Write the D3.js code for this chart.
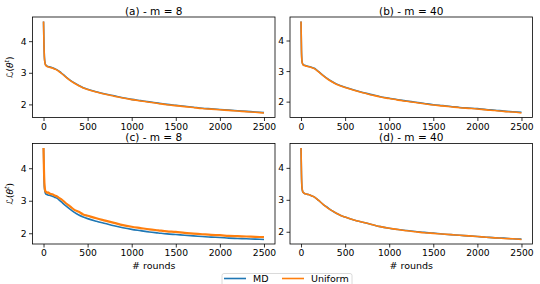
<!DOCTYPE html>
<html>
<head>
<meta charset="utf-8">
<script src="https://cdn.jsdelivr.net/npm/d3@7"></script>
<style>
  body { margin: 0; background: #fff; }
  svg { display: block; font-family: 'DejaVu Sans', sans-serif; }
</style>
</head>
<body>
<svg width="540" height="284"></svg>
<script>
const rounds = [0, 5, 10, 15, 20, 30, 40, 50, 75, 100, 125, 150, 175, 200, 250, 300, 350, 400, 450, 500,
    600, 700, 800, 900, 1000, 1100, 1200, 1300, 1400, 1500, 1600, 1700, 1800, 1900, 2000, 2100, 2200, 2300, 2400, 2500];

const mdA = [4.62, 3.9, 3.5, 3.35, 3.28, 3.23, 3.21, 3.2, 3.18, 3.16, 3.13, 3.1, 3.05, 3.0, 2.88, 2.77, 2.68, 2.6, 2.53, 2.48,
    2.4, 2.33, 2.27, 2.21, 2.16, 2.12, 2.08, 2.04, 2.0, 1.97, 1.94, 1.91, 1.88, 1.86, 1.84, 1.82, 1.8, 1.78, 1.76, 1.74];
const uniA = [4.62, 3.88, 3.48, 3.34, 3.27, 3.22, 3.2, 3.19, 3.17, 3.15, 3.12, 3.09, 3.04, 2.99, 2.87, 2.76, 2.67, 2.59, 2.52, 2.47,
    2.39, 2.32, 2.26, 2.2, 2.15, 2.11, 2.07, 2.03, 1.99, 1.96, 1.93, 1.9, 1.87, 1.85, 1.83, 1.81, 1.79, 1.77, 1.75, 1.73];

const mdB = [4.62, 3.7, 3.35, 3.27, 3.23, 3.2, 3.19, 3.18, 3.16, 3.14, 3.12, 3.09, 3.04, 2.98, 2.86, 2.75, 2.66, 2.58, 2.52, 2.47,
    2.38, 2.3, 2.23, 2.16, 2.11, 2.06, 2.02, 1.98, 1.94, 1.9, 1.87, 1.84, 1.81, 1.79, 1.77, 1.74, 1.72, 1.69, 1.67, 1.65];
const uniB = [4.62, 3.68, 3.34, 3.26, 3.22, 3.19, 3.18, 3.17, 3.15, 3.13, 3.11, 3.08, 3.03, 2.97, 2.85, 2.74, 2.65, 2.57, 2.51, 2.46,
    2.37, 2.29, 2.22, 2.15, 2.1, 2.05, 2.01, 1.97, 1.93, 1.89, 1.86, 1.83, 1.8, 1.78, 1.76, 1.73, 1.71, 1.68, 1.66, 1.63];

const mdC = [4.62, 3.8, 3.4, 3.3, 3.24, 3.2, 3.19, 3.18, 3.16, 3.14, 3.11, 3.08, 3.03, 2.97, 2.85, 2.74, 2.64, 2.56, 2.5, 2.45,
    2.37, 2.3, 2.23, 2.17, 2.12, 2.08, 2.04, 2.01, 1.98, 1.96, 1.94, 1.92, 1.9, 1.88, 1.87, 1.85, 1.84, 1.83, 1.82, 1.81];
const uniC = [4.62, 3.95, 3.55, 3.38, 3.3, 3.27, 3.24, 3.26, 3.21, 3.2, 3.16, 3.14, 3.09, 3.05, 2.93, 2.83, 2.72, 2.66, 2.58, 2.54,
    2.46, 2.39, 2.32, 2.25, 2.2, 2.16, 2.12, 2.09, 2.06, 2.04, 2.01, 1.99, 1.97, 1.95, 1.94, 1.92, 1.91, 1.9, 1.89, 1.88];

const mdD = [4.62, 3.8, 3.4, 3.3, 3.25, 3.22, 3.2, 3.19, 3.17, 3.15, 3.12, 3.09, 3.04, 2.98, 2.86, 2.76, 2.66, 2.58, 2.51, 2.46,
    2.37, 2.3, 2.23, 2.16, 2.11, 2.07, 2.04, 2.01, 1.98, 1.96, 1.93, 1.91, 1.89, 1.87, 1.85, 1.83, 1.81, 1.8, 1.78, 1.77];
const uniD = [4.62, 3.82, 3.42, 3.31, 3.25, 3.22, 3.2, 3.19, 3.17, 3.15, 3.12, 3.09, 3.04, 2.98, 2.86, 2.75, 2.66, 2.58, 2.51, 2.46,
    2.37, 2.3, 2.23, 2.16, 2.11, 2.07, 2.03, 2.0, 1.97, 1.95, 1.93, 1.91, 1.89, 1.87, 1.85, 1.83, 1.81, 1.79, 1.78, 1.76];

const titles = ['(a) - m = 8', '(b) - m = 40', '(c) - m = 8', '(d) - m = 40'];
const seriesNames = ['MD', 'Uniform'];
const xTicks = [0, 500, 1000, 1500, 2000, 2500];
const yTicks = [2, 3, 4];

const colors = ['#1f77b4', '#ff7f0e'];
const panels = [
    { md: mdA, uni: uniA, x: 32.5, y: 17, noisy: false },
    { md: mdB, uni: uniB, x: 290, y: 17, noisy: false },
    { md: mdC, uni: uniC, x: 32.5, y: 143.5, noisy: true },
    { md: mdD, uni: uniD, x: 290, y: 143.5, noisy: false }
];
const pw = 242.5, ph = 100.5;

const svg = d3.select('svg');

panels.forEach((p, i) => {
    const g = svg.append('g').attr('transform', `translate(${p.x},${p.y})`);

    const x = d3.scaleLinear().domain([-125, 2625]).range([0, pw]);
    const ext = d3.extent(p.md.concat(p.uni));
    const pad = (ext[1] - ext[0]) * 0.05;
    const y = d3.scaleLinear().domain([ext[0] - pad, ext[1] + pad]).range([ph, 0]);

    const line = vals => d3.line()
        .x((d, k) => x(rounds[k]))
        .y(d => y(d))
        .curve(d3.curveMonotoneX)(vals);

    g.append('path').attr('d', line(p.md))
        .attr('fill', 'none').attr('stroke', colors[0]).attr('stroke-width', 1.6);
    g.append('path').attr('d', line(p.uni))
        .attr('fill', 'none').attr('stroke', colors[1])
        .attr('stroke-width', p.noisy ? 2.2 : 1.6);

    const xAxis = g.append('g').attr('transform', `translate(0,${ph})`)
        .call(d3.axisBottom(x).tickValues(xTicks).tickSize(3.5).tickPadding(2).tickFormat(d3.format('d')));
    const yAxis = g.append('g')
        .call(d3.axisLeft(y).tickValues(yTicks).tickSize(3.5).tickPadding(2.5).tickFormat(d3.format('d')));
    [xAxis, yAxis].forEach(a => {
        a.select('.domain').remove();
        a.selectAll('line').attr('stroke', '#000').attr('stroke-width', 0.8);
        a.selectAll('text').attr('font-size', '9.2px').attr('fill', '#000')
            .attr('font-family', 'DejaVu Sans, sans-serif');
    });

    g.append('rect').attr('width', pw).attr('height', ph)
        .attr('fill', 'none').attr('stroke', '#000').attr('stroke-width', 0.8);

    g.append('text').attr('x', pw / 2).attr('y', -2.5)
        .attr('text-anchor', 'middle').attr('font-size', '10.5px')
        .text(titles[i]);

    if (i % 2 === 0) {
        const yl = g.append('text')
            .attr('transform', `translate(-20,${ph / 2}) rotate(-90)`)
            .attr('text-anchor', 'middle').attr('font-size', '9px');
        yl.append('tspan').text('ℒ(');
        yl.append('tspan').attr('font-style', 'italic').text('θ');
        yl.append('tspan').attr('dy', -3.5).attr('font-size', '6.5px').attr('font-style', 'italic').text('t');
        yl.append('tspan').attr('dy', 3.5).text(')');
    }
    if (i >= 2) {
        g.append('text').attr('x', pw / 2).attr('y', ph + 25)
            .attr('text-anchor', 'middle').attr('font-size', '9.5px')
            .text('# rounds');
    }
});

const legend = svg.append('g').attr('transform', 'translate(222,273.5)');
legend.append('rect').attr('width', 130).attr('height', 20).attr('rx', 2)
    .attr('fill', '#fff').attr('stroke', '#d0d0d0').attr('stroke-width', 0.8);
const items = legend.selectAll('.item').data(seriesNames).enter().append('g')
    .attr('transform', (d, i) => `translate(${i === 0 ? 2 : 60},0)`);
items.append('line').attr('x1', 0).attr('x2', 22).attr('y1', 5).attr('y2', 5)
    .attr('stroke', (d, i) => colors[i]).attr('stroke-width', 1.6);
items.append('text').attr('x', 29).attr('y', 8.5).attr('font-size', '9.5px').text(d => d);
</script>
</body>
</html>
